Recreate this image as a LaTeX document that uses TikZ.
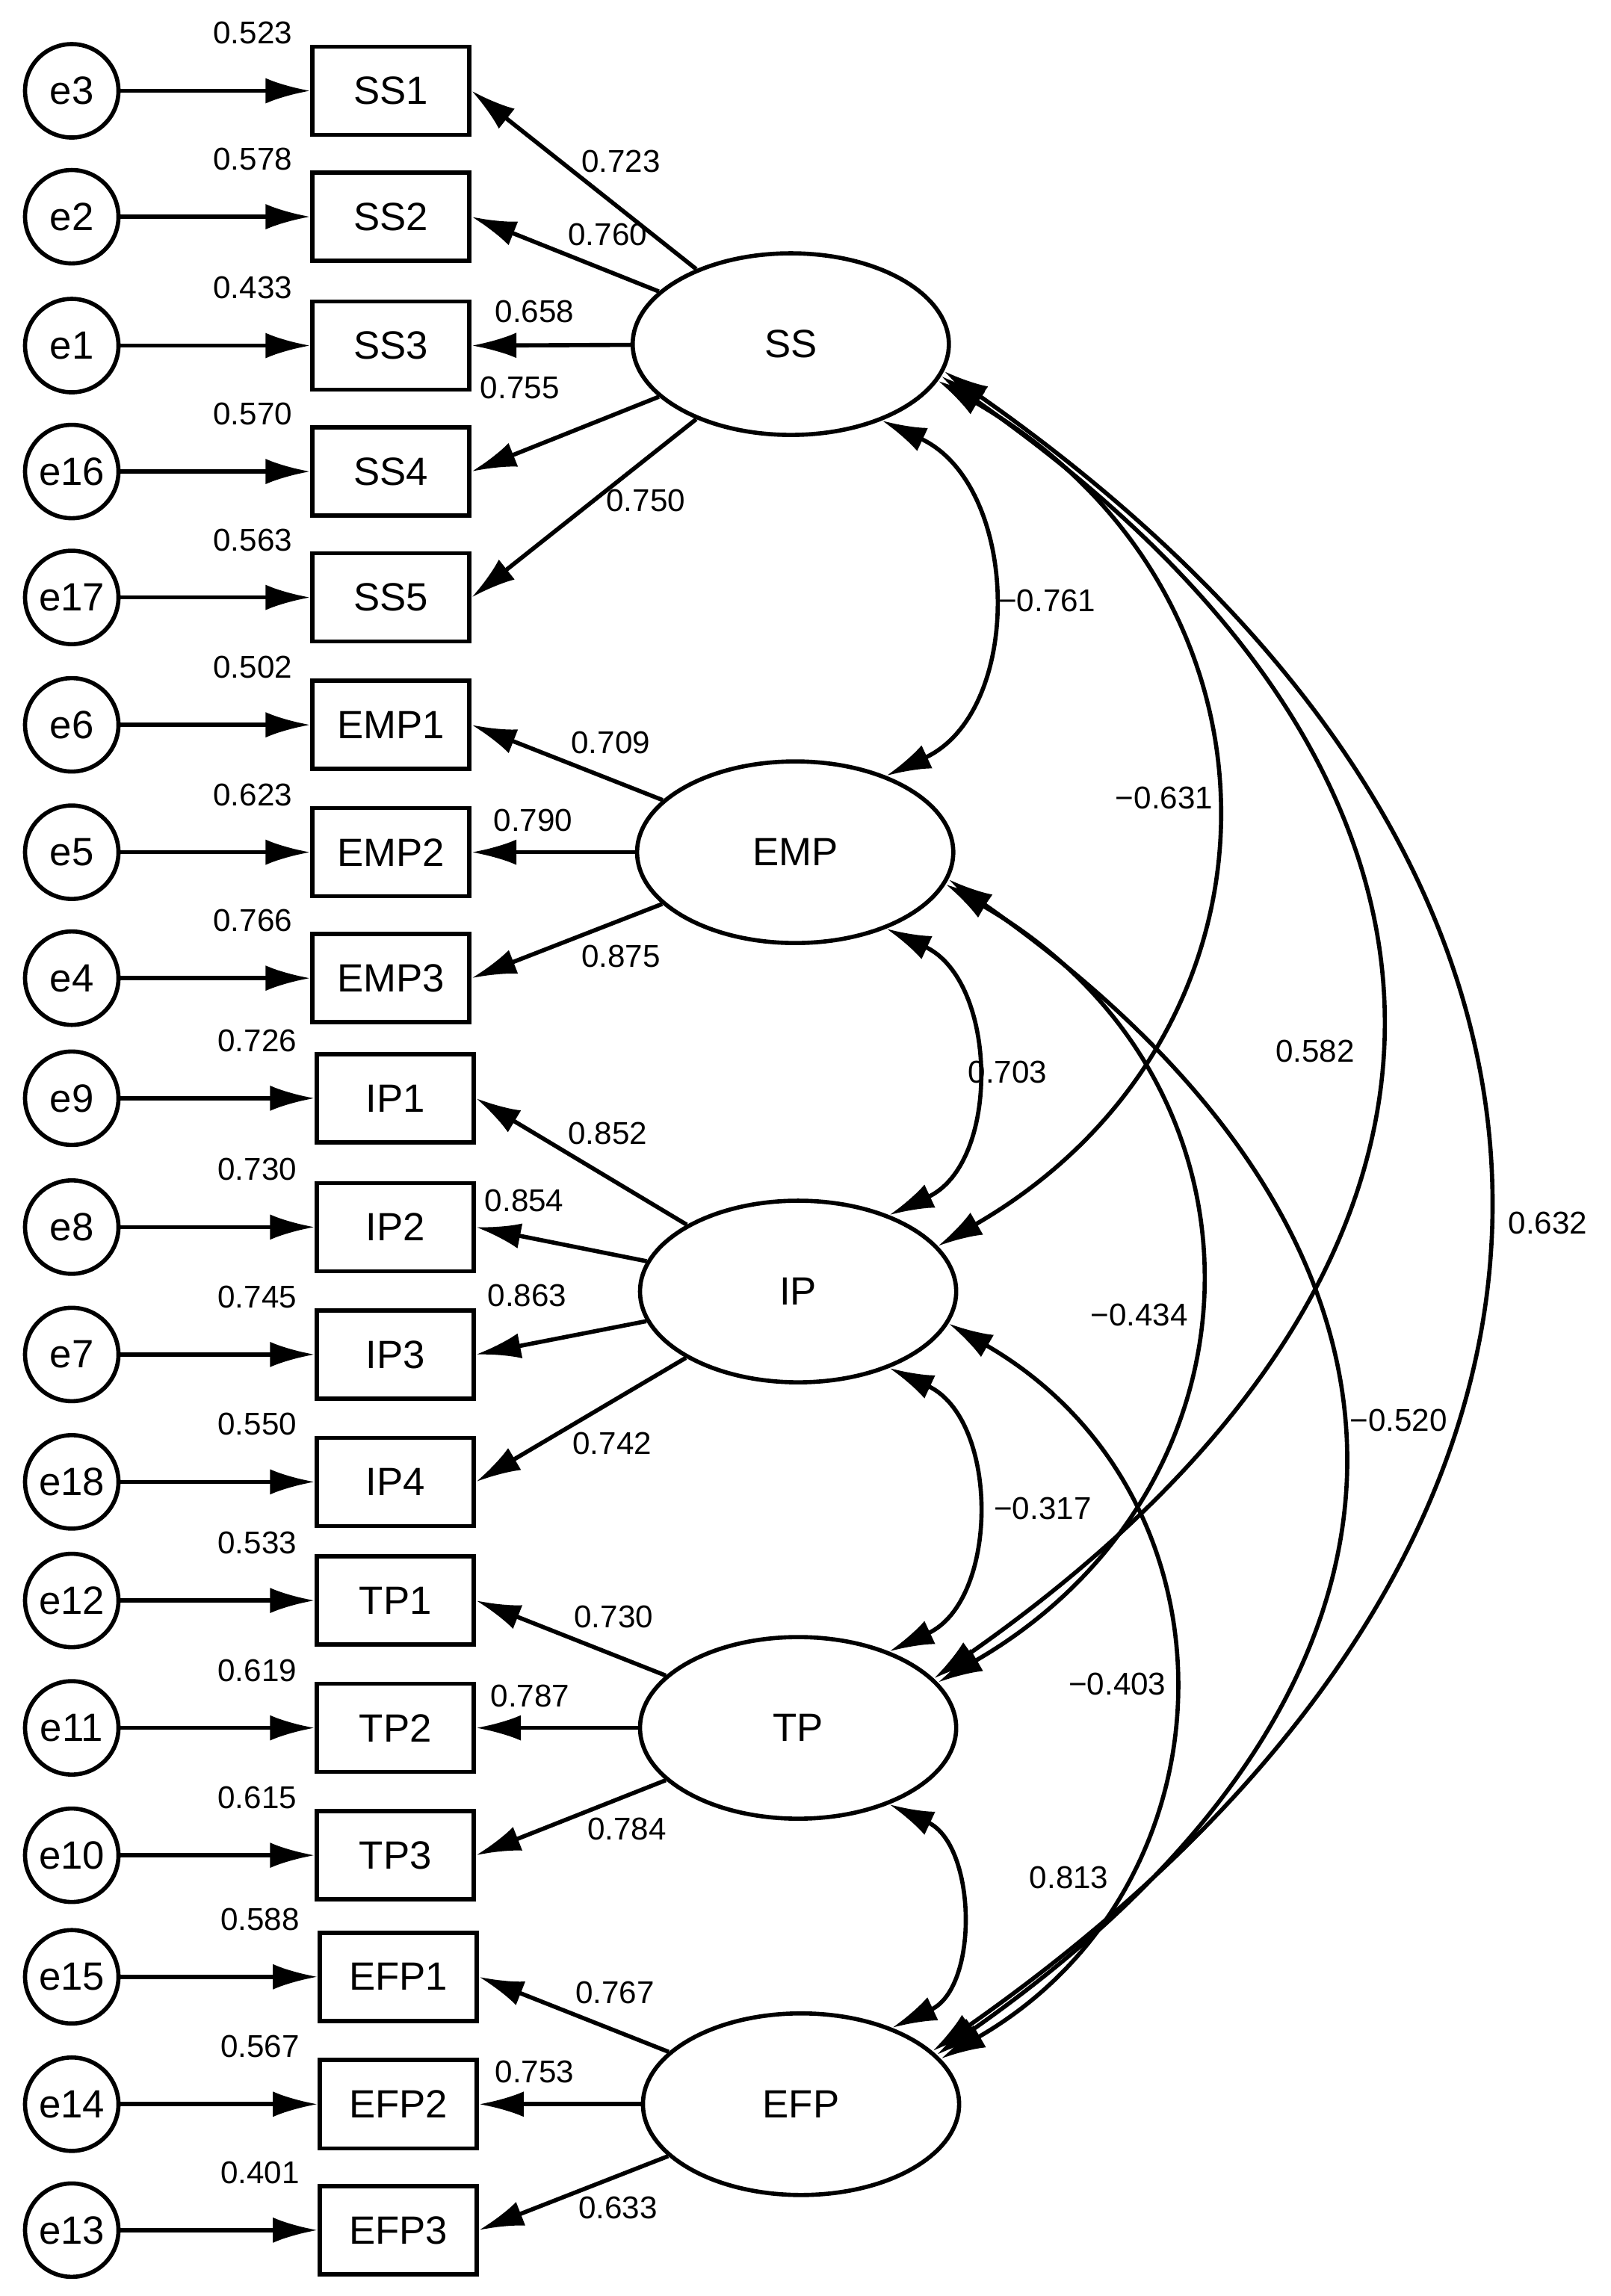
\documentclass[tikz,border=0pt]{standalone}
\usepackage{fontspec}
\setmainfont{Liberation Sans}
\usetikzlibrary{arrows.meta, shapes.geometric}
\begin{document}
\begin{tikzpicture}[x=0.01959cm, y=-0.01959cm, line width=1.6pt,
    err/.style={draw, circle, minimum size=1.25cm, inner sep=0pt, font=\fontsize{15}{17}\selectfont},
    ind/.style={draw, rectangle, minimum width=2.1cm, minimum height=1.18cm, inner sep=0pt, font=\fontsize{15}{17}\selectfont},
    lat/.style={draw, ellipse, minimum width=4.23cm, minimum height=2.43cm, inner sep=0pt, font=\fontsize{15}{17}\selectfont},
    num/.style={font=\fontsize{12}{14}\selectfont, inner sep=1pt},
    arr/.style={-{Latex[length=0.6cm, width=0.34cm]}},
    cov/.style={{Latex[length=0.6cm, width=0.34cm]}-{Latex[length=0.6cm, width=0.34cm]}}]
    \useasboundingbox (0,0) rectangle (1100,1568);
    % latent factors
    \node[lat] (SS) at (540,235) {SS};
    \node[lat] (EMP) at (543,582) {EMP};
    \node[lat] (IP) at (545,882) {IP};
    \node[lat] (TP) at (545,1180) {TP};
    \node[lat] (EFP) at (547,1437) {EFP};
    % indicators with their errors
    \foreach \ind/\e/\y/\bx/\var/\f in {SS1/e3/62/267/0.523/SS, SS2/e2/148/267/0.578/SS, SS3/e1/236/267/0.433/SS, SS4/e16/322/267/0.570/SS, SS5/e17/408/267/0.563/SS,
        EMP1/e6/495/267/0.502/EMP, EMP2/e5/582/267/0.623/EMP, EMP3/e4/668/267/0.766/EMP,
        IP1/e9/750/270/0.726/IP, IP2/e8/838/270/0.730/IP, IP3/e7/925/270/0.745/IP, IP4/e18/1012/270/0.550/IP,
        TP1/e12/1093/270/0.533/TP, TP2/e11/1180/270/0.619/TP, TP3/e10/1267/270/0.615/TP,
        EFP1/e15/1350/272/0.588/EFP, EFP2/e14/1437/272/0.567/EFP, EFP3/e13/1523/272/0.401/EFP} {
        \node[ind] (\ind) at (\bx,\y) {\ind};
        \node[err] (\e) at (49,\y) {\e};
        \node[num, anchor=south east] (v\ind) at ([xshift=-0.18cm, yshift=-0.06cm]\ind.north west) {\var};
        \draw[arr] (\e) -- (\ind);
        \draw[arr] (\f) -- (\ind.east);
    }
    % loadings
    \foreach \x/\y/\t in {424/110/0.723, 415/160/0.760, 365/213/0.658, 355/265/0.755, 441/342/0.750,
        417/507/0.709, 364/560/0.790, 424/653/0.875,
        415/774/0.852, 358/820/0.854, 360/885/0.863, 418/986/0.742,
        419/1104/0.730, 362/1158/0.787, 428/1249/0.784,
        420/1361/0.767, 365/1415/0.753, 422/1508/0.633}
        \node[num] (l\t) at (\x,\y) {\t};
    % covariances
    \draw[cov] (SS.-40) to[out=-25, in=25, looseness=1.1] (EMP.40);
    \draw[cov] (EMP.-40) to[out=-25, in=25, looseness=1.1] (IP.40);
    \draw[cov] (IP.-40) to[out=-25, in=25, looseness=1.1] (TP.40);
    \draw[cov] (TP.-40) to[out=-25, in=25, looseness=1.1] (EFP.40);
    \draw[cov] (SS.-14) to[out=-30, in=30, looseness=1.25] (IP.18);
    \draw[cov] (SS.-12) to[out=-35, in=35, looseness=1.4] (TP.20);
    \draw[cov] (SS.-10) to[out=-35, in=35, looseness=1.35] (EFP.22);
    \draw[cov] (EMP.-12) to[out=-30, in=30, looseness=1.25] (TP.18);
    \draw[cov] (EMP.-10) to[out=-35, in=35, looseness=1.4] (EFP.20);
    \draw[cov] (IP.-12) to[out=-30, in=30, looseness=1.2] (EFP.18);
    \node[num] (c1) at (715,410) {−0.761};
    \node[num] (c2) at (795,545) {−0.631};
    \node[num] (c3) at (898,718) {0.582};
    \node[num] (c4) at (1057,835) {0.632};
    \node[num] (c5) at (688,732) {0.703};
    \node[num] (c6) at (778,898) {−0.434};
    \node[num] (c7) at (955,970) {−0.520};
    \node[num] (c8) at (712,1030) {−0.317};
    \node[num] (c9) at (763,1150) {−0.403};
    \node[num] (c10) at (730,1282) {0.813};
\end{tikzpicture}
\end{document}
